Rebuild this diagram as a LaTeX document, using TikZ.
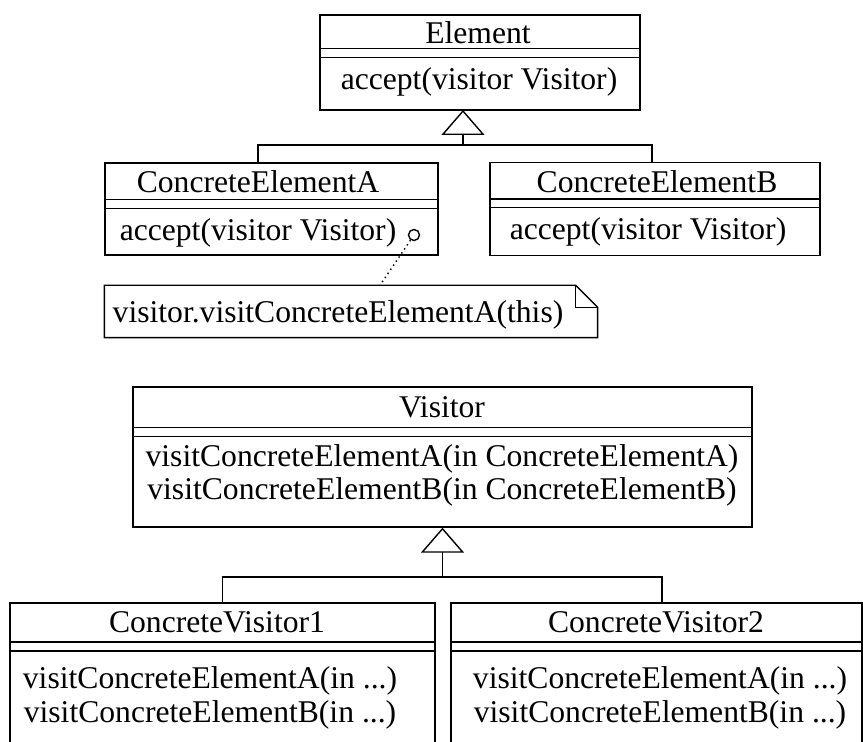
\documentclass[tikz,border=0pt]{standalone}
\usepackage{fontspec}
\setmainfont{Liberation Serif}
\usetikzlibrary{arrows.meta}
\tikzstyle{classbox}=[draw, rectangle, inner sep=0pt]
\tikzstyle{txt}=[inner sep=0pt, anchor=base, font=\fontsize{18}{19}\selectfont]
\tikzstyle{inherit}=[-{Triangle[open, length=0.5cm, width=0.86cm]}]

\begin{document}
\begin{tikzpicture}[x=0.02cm, y=-0.02cm, line width=0.8pt]
\useasboundingbox (0,0) rectangle (863,742);
\clip (0,0) rectangle (863,742);

\node[classbox, minimum width=6.4cm, minimum height=1.9cm] (element) at (480,62.5) {};
\node[classbox, minimum width=6.66cm, minimum height=1.84cm] (ceA) at (271.5,209) {};
\node[classbox, minimum width=6.6cm, minimum height=1.86cm] (ceB) at (655,209) {};
\node[classbox, minimum width=12.38cm, minimum height=2.8cm] (visitor) at (442.5,457) {};
\node[classbox, minimum width=8.5cm, minimum height=3.4cm] (cvA) at (222.5,688) {};
\node[classbox, minimum width=8.22cm, minimum height=3.4cm] (cvB) at (656.5,688) {};

% double line under each class name
\foreach \c/\a in {element/34, ceA/37, ceB/37, visitor/41, cvA/39.5, cvB/39.5}
{
  \draw ([yshift=-\a*0.02cm]\c.north west) -- ([yshift=-\a*0.02cm]\c.north east);
  \draw ([yshift=-\a*0.02cm-0.18cm]\c.north west) -- ([yshift=-\a*0.02cm-0.18cm]\c.north east);
}

\node[txt] (elementName) at (478,44) {Element};
\node[txt] (elementOp) at (479,90) {accept(visitor Visitor)};
\node[txt] (ceAName) at (258,193) {ConcreteElementA};
\node[txt] (ceAOp) at (258,241) {accept(visitor Visitor)};
\node[txt] (ceBName) at (657,193) {ConcreteElementB};
\node[txt] (ceBOp) at (648,240) {accept(visitor Visitor)};
\node[txt] (visitorName) at (442,418) {Visitor};
\foreach \m/\y in {A/467, B/500}
\node[txt] (visitorOp\m) at (442,\y) {visitConcreteElement\m(in ConcreteElement\m)};
\node[txt] (cvAName) at (217,633) {ConcreteVisitor1};
\node[txt] (cvBName) at (656,633) {ConcreteVisitor2};
\foreach \m/\y in {A/689, B/723}
{
  \node[txt] (cvAOp\m) at (210,\y) {visitConcreteElement\m(in ...)};
  \node[txt] (cvBOp\m) at (660,\y) {visitConcreteElement\m(in ...)};
}

% note on accept of ConcreteElementA
\node[minimum width=9.84cm, minimum height=1.02cm, inner sep=0pt] (noteA) at (351,311.5) {};
\node[txt, anchor=base west] (noteText) at (112,323) {visitor.visitConcreteElementA(this)};
\draw (noteA.north west) -- ([xshift=-0.44cm]noteA.north east) -- ([yshift=-0.44cm]noteA.north east)
  -- (noteA.south east) -- (noteA.south west) -- cycle;
\draw ([xshift=-0.44cm]noteA.north east) |- ([yshift=-0.44cm]noteA.north east);
\node[circle, draw, inner sep=0pt, minimum size=0.22cm] (pinA) at (414,235) {};
\draw[dotted, thick] (pinA) -- ([xshift=0.58cm]noteA.north);

% generalisation
\coordinate (elemTip) at (463,110);
\coordinate (elemJoin) at (463,145);
\draw[inherit] ([xshift=-0.27cm]ceA.north) |- (elemJoin) -- (elemTip);
\draw ([xshift=-0.06cm]ceB.north) |- (elemJoin);

\coordinate (visJoin) at (442.5,577);
\draw[inherit] (cvA.north) |- (visJoin) -- (visitor.south);
\draw ([xshift=0.11cm]cvB.north) |- (visJoin);
\end{tikzpicture}
\end{document}
